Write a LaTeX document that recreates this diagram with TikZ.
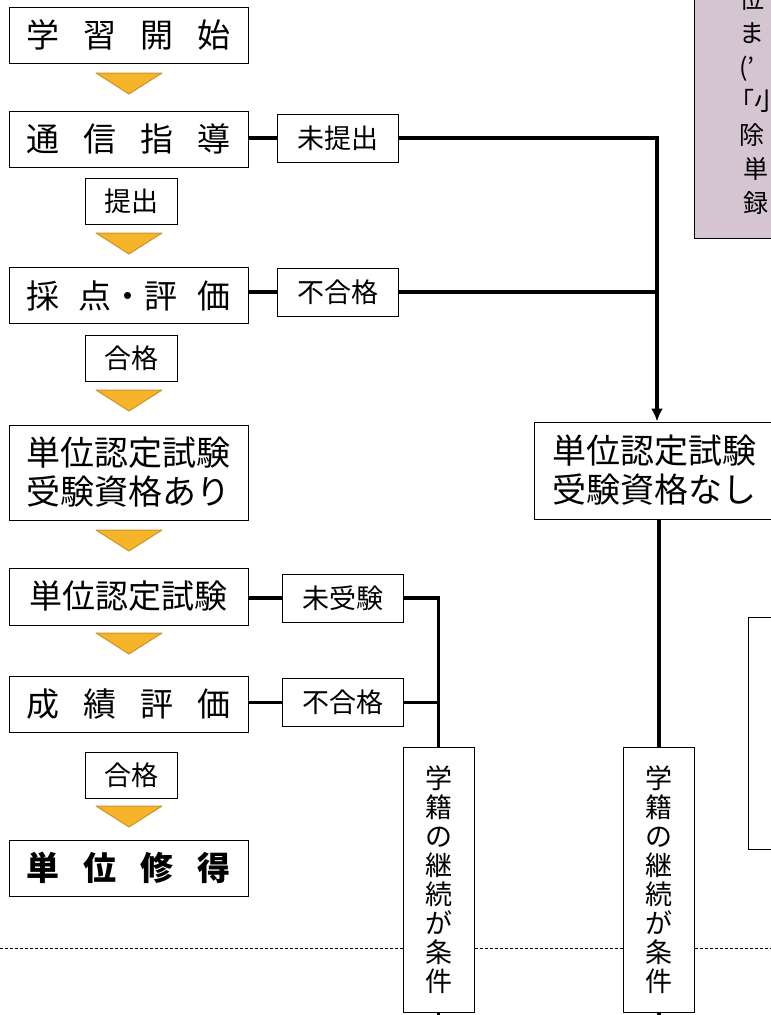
\documentclass[tikz,border=0pt]{standalone}
\usepackage{fontspec}
\setmainfont{Noto Sans CJK JP}
\usetikzlibrary{arrows.meta}

\definecolor{chevfill}{RGB}{245,180,42}
\definecolor{chevline}{RGB}{200,150,40}
\definecolor{notefill}{RGB}{213,197,209}

\newcommand\jgap{\hspace{24pt}}
\newcommand\chevron[2]{\filldraw[chev] (#1-33,#2) -- (#1+33,#2) -- (#1,#2+21) -- cycle;}

\tikzset{
  mainbox/.style={draw,line width=1pt,fill=white,minimum width=239pt,minimum height=56pt,inner sep=0pt,font=\fontsize{33}{38}\selectfont},
  twobox/.style={mainbox,minimum height=95pt,align=center,font=\fontsize{34}{39}\selectfont},
  tagbox/.style={draw,line width=0.8pt,fill=white,minimum width=121pt,minimum height=48pt,inner sep=0pt,font=\fontsize{27}{30}\selectfont},
  passbox/.style={tagbox,minimum width=92pt,minimum height=46pt},
  vbox/.style={draw,line width=0.8pt,fill=white,minimum width=71pt,minimum height=265pt,inner sep=0pt,align=center,font=\fontsize{27}{29}\selectfont},
  link/.style={line width=3.5pt},
  chev/.style={fill=chevfill,draw=chevline,line width=1pt,line join=round},
}

\begin{document}
\begin{tikzpicture}[x=1pt,y=-1pt]
\useasboundingbox (0,0) rectangle (771,1015);
\clip (0,0) rectangle (771,1015);

\node[draw,line width=1pt,fill=notefill,minimum width=150pt,minimum height=260pt,anchor=south west] (note) at (694,239) {};
\node[anchor=north west,inner sep=0pt,align=left,font=\fontsize{25}{34}\selectfont] (notetext) at (739,-13) {位\\ま\\(’\\\hspace{-10pt}「小\\除\\\hspace{4pt}単\\\hspace{4pt}録};
\node[draw,line width=1pt,minimum width=100pt,minimum height=232pt,anchor=north west] (blank) at (748,617) {};

\draw[dash pattern=on 3pt off 2pt,line width=0.7pt] (0,948) -- (771,948);

\node[mainbox] (start) at (128.5,35) {学\jgap 習\jgap 開\jgap 始};
\chevron{129}{73}
\node[mainbox] (tsushin) at (128.5,139) {通\jgap 信\jgap 指\jgap 導};
\node[tagbox] (mitei) at (337.5,138) {未提出};
\node[passbox] (teishutsu) at (131,201) {提出};
\chevron{129}{233}
\node[mainbox] (saiten) at (128.5,295.5) {採\hspace{20pt}点・評\hspace{20pt}価};
\node[tagbox] (fugo1) at (337.5,292) {不合格};
\node[passbox] (gokaku1) at (131,358) {合格};
\chevron{129}{390}
\node[twobox] (ari) at (128.5,472.5) {単位認定試験\\受験資格あり};
\chevron{129}{530}
\node[mainbox,minimum height=57pt] (shiken) at (128.5,596.5) {単位認定試験};
\node[tagbox] (mijuken) at (342.5,598) {未受験};
\chevron{129}{633}
\node[mainbox] (seiseki) at (128.5,704) {成\jgap 績\jgap 評\jgap 価};
\node[tagbox] (fugo2) at (342.5,702.5) {不合格};
\node[passbox] (gokaku2) at (131,775.5) {合格};
\chevron{129}{806}
\node[mainbox,font=\fontsize{33}{38}\selectfont\bfseries] (shutoku) at (128.5,868) {単\jgap 位\jgap 修\jgap 得};

\node[twobox,minimum width=240pt,minimum height=97pt] (nashi) at (654,470.5) {単位認定試験\\受験資格なし};
\node[vbox] (keizoku1) at (438.5,879.5) {学\\籍\\の\\継\\続\\が\\条\\件};
\node[vbox] (keizoku2) at (659,880) {学\\籍\\の\\継\\続\\が\\条\\件};

\coordinate (jA) at (657,0);
\draw[link] (mitei.west -| tsushin.east) -- (mitei.west);
\draw[link,-{Latex[length=13pt,width=12pt]}] (mitei.east) -| (nashi.north -| jA);
\draw[link] (fugo1.west -| saiten.east) -- (fugo1.west);
\draw[link] (fugo1.east) -- (fugo1.east -| jA);
\draw[link] (mijuken.west -| shiken.east) -- (mijuken.west);
\draw[link] (mijuken.east) -| (keizoku1.north);
\draw[link] (fugo2.west -| seiseki.east) -- (fugo2.west);
\draw[link] (fugo2.east) -- (fugo2.east -| keizoku1);
\draw[link] (keizoku1.south) -- ++(0,20);
\draw[link] (nashi.south -| keizoku2) -- (keizoku2.north);
\draw[link] (keizoku2.south) -- ++(0,20);
\end{tikzpicture}
\end{document}
